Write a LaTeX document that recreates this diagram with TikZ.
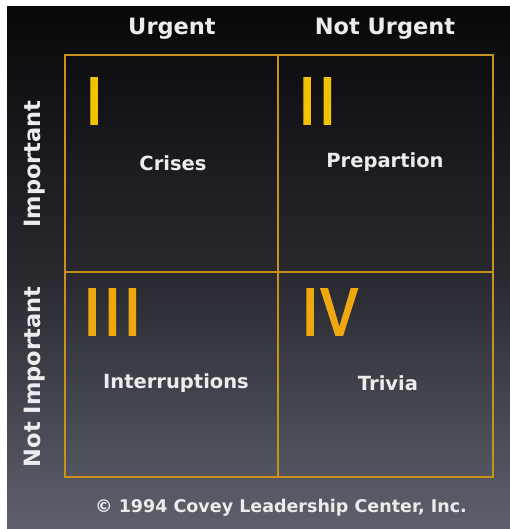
\documentclass[tikz,border=0pt]{standalone}
\usepackage{fontspec}
\setmainfont{Fira Sans}
\newfontfamily\lblfont{DejaVu Sans}
\newfontfamily\numfont[FakeBold=1.5]{Fira Sans}
\definecolor{gold}{HTML}{C8901C}
\definecolor{numI}{HTML}{F2C200}
\definecolor{numIV}{HTML}{F0A810}
\definecolor{txt}{HTML}{ECECEC}
\definecolor{bgtop}{HTML}{08080A}
\definecolor{bgmid}{HTML}{27282E}
\definecolor{bgbot}{HTML}{5E606C}
\tikzset{
  head/.style={text=txt, font=\lblfont\bfseries\fontsize{22.5}{22.5}\selectfont, inner sep=0pt},
  lbl/.style={text=txt, font=\lblfont\bfseries\fontsize{19.5}{19.5}\selectfont, inner sep=0pt},
  num/.style={font=\numfont\fontsize{68}{68}\selectfont, inner sep=0pt, anchor=west},
  grid/.style={draw=gold, line width=2pt}
}
\begin{document}
\begin{tikzpicture}[x=1pt,y=-1pt]
\useasboundingbox (0,0) rectangle (510,529);
\fill[white] (0,0) rectangle (510,529);
\shade[top color=bgtop, bottom color=bgbot, middle color=bgmid] (7,7) rectangle (510,529);
\coordinate (tl) at (65,55);
\coordinate (br) at (493,477);
\coordinate (tm) at (278,55);
\coordinate (bm) at (278,477);
\coordinate (ml) at (65,272);
\coordinate (mr) at (493,272);
\draw[grid] (tl) rectangle (br);
\draw[grid] (tm) -- (bm);
\draw[grid] (ml) -- (mr);
\node[head] (urg) at (172,29) {Urgent};
\node[head] (nurg) at (385,29) {Not Urgent};
\node[head, rotate=90] (imp) at (35,164) {Important};
\node[head, rotate=90] (nimp) at (35,377) {Not Important};
\node[num, text=numI] (n1) at (84,101) {I};
\node[num, text=numI] (n2) at (297,101) {II};
\node[num, text=numIV] (n3) at (82,312) {III};
\node[num, text=numIV] (n4) at (300,312) {IV};
\node[lbl] (c1) at (173,163) {Crises};
\node[lbl] (c2) at (385,162) {Prepartion};
\node[lbl] (c3) at (176,383) {Interruptions};
\node[lbl] (c4) at (388,383) {Trivia};
\node[text=txt, font=\lblfont\bfseries\fontsize{17.5}{17.5}\selectfont, inner sep=0pt] (copy) at (281,508) {© 1994 Covey Leadership Center, Inc.};
\end{tikzpicture}
\end{document}
